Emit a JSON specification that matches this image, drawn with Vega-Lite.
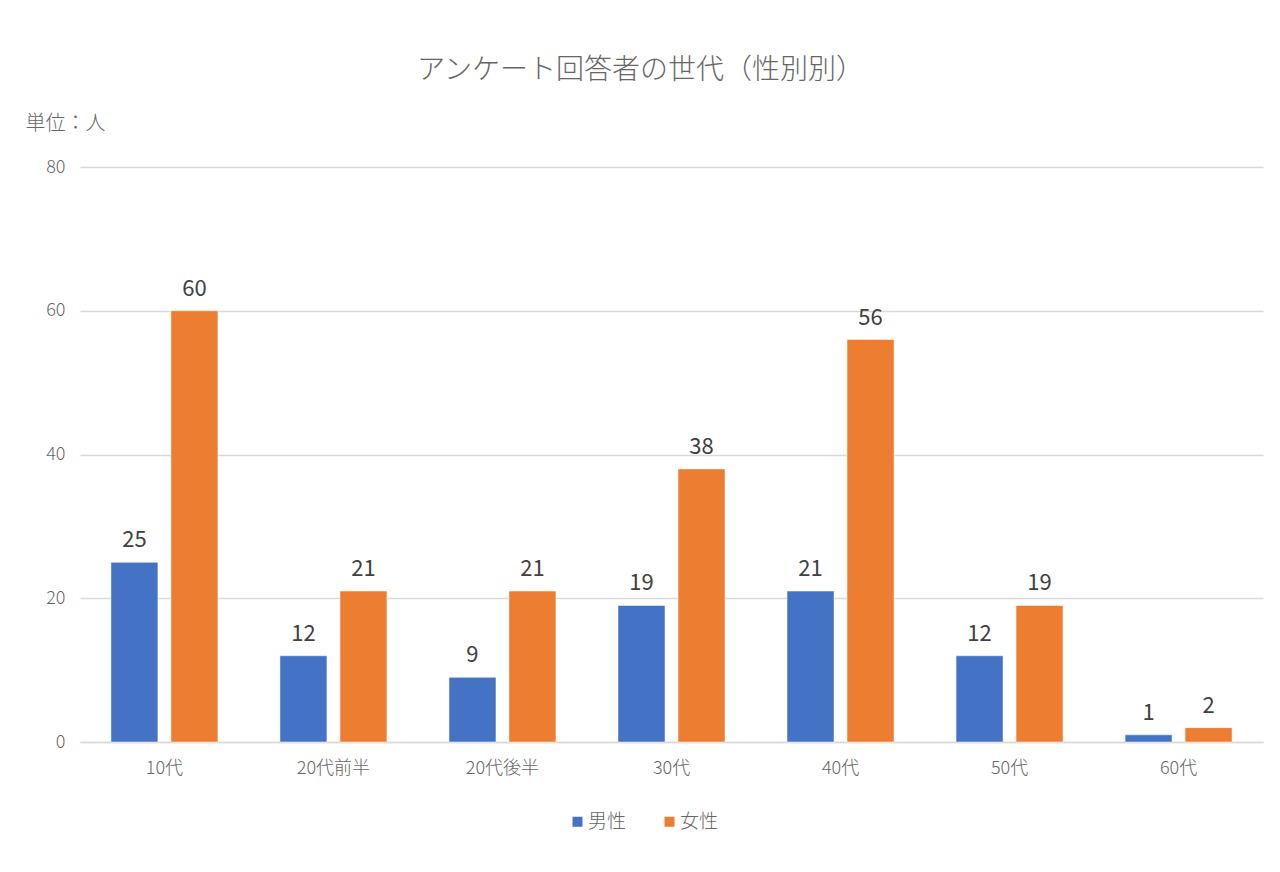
{
  "$schema": "https://vega.github.io/schema/vega-lite/v6.json",
  "description": "アンケート回答者の世代（性別別）",
  "width": 1183,
  "height": 575,
  "autosize": {"type": "none"},
  "padding": {"left": 80, "top": 167, "right": 17, "bottom": 130},
  "background": "white",
  "title": {
    "text": "アンケート回答者の世代（性別別）",
    "anchor": "middle",
    "frame": "group",
    "dx": -31,
    "offset": 28,
    "fontSize": 28,
    "fontWeight": 300,
    "color": "#666666"
  },
  "data": {
    "values": [
      {"age": "10代", "sex": "男性", "count": 25},
      {"age": "10代", "sex": "女性", "count": 60},
      {"age": "20代前半", "sex": "男性", "count": 12},
      {"age": "20代前半", "sex": "女性", "count": 21},
      {"age": "20代後半", "sex": "男性", "count": 9},
      {"age": "20代後半", "sex": "女性", "count": 21},
      {"age": "30代", "sex": "男性", "count": 19},
      {"age": "30代", "sex": "女性", "count": 38},
      {"age": "40代", "sex": "男性", "count": 21},
      {"age": "40代", "sex": "女性", "count": 56},
      {"age": "50代", "sex": "男性", "count": 12},
      {"age": "50代", "sex": "女性", "count": 19},
      {"age": "60代", "sex": "男性", "count": 1},
      {"age": "60代", "sex": "女性", "count": 2}
    ]
  },
  "encoding": {
    "x": {
      "field": "age",
      "type": "nominal",
      "sort": ["10代", "20代前半", "20代後半", "30代", "40代", "50代", "60代"],
      "scale": {"paddingInner": 0.367, "paddingOuter": 0.183},
      "axis": {
        "title": null,
        "labelAngle": 0,
        "ticks": false,
        "labelPadding": 17,
        "domainColor": "#d9d9d9",
        "domainWidth": 1.5,
        "grid": false
      }
    },
    "xOffset": {
      "field": "sex",
      "type": "nominal",
      "sort": ["男性", "女性"],
      "scale": {"paddingInner": 0.2167, "paddingOuter": 0}
    },
    "y": {
      "field": "count",
      "type": "quantitative",
      "scale": {"domain": [0, 80]},
      "axis": {
        "values": [0, 20, 40, 60, 80],
        "title": "単位：人",
        "titleAngle": 0,
        "titleAlign": "left",
        "titleBaseline": "middle",
        "titleX": -55,
        "titleY": -44,
        "titleFontSize": 20,
        "titleFontWeight": 300,
        "titleColor": "#666666",
        "ticks": false,
        "domain": false,
        "labelPadding": 15,
        "gridColor": "#d9d9d9",
        "gridWidth": 1.5
      }
    },
    "color": {
      "field": "sex",
      "type": "nominal",
      "sort": ["男性", "女性"],
      "scale": {"range": ["#4472C4", "#ED7D31"]},
      "legend": {
        "title": null,
        "orient": "none",
        "direction": "horizontal",
        "legendX": 488,
        "legendY": 645,
        "symbolType": "square",
        "symbolSize": 100,
        "symbolStrokeWidth": 0,
        "labelFontSize": 19,
        "labelFontWeight": 300,
        "labelOffset": 1,
        "labelColor": "#666666",
        "columnPadding": 33,
        "padding": 0
      }
    }
  },
  "layer": [
    {"mark": {"type": "bar", "stroke": "white", "strokeWidth": 0.5}},
    {
      "mark": {
        "type": "text",
        "baseline": "bottom",
        "dy": -10,
        "fontSize": 22,
        "color": "#404040"
      },
      "encoding": {
        "text": {"field": "count", "type": "quantitative"},
        "color": {"value": "#404040"}
      }
    }
  ],
  "config": {
    "font": "Noto Sans CJK JP",
    "axis": {
      "labelFontSize": 18,
      "labelFontWeight": 300,
      "labelColor": "#666666",
      "labelFont": "Noto Sans CJK JP",
      "titleFont": "Noto Sans CJK JP"
    },
    "legend": {"labelFont": "Noto Sans CJK JP"},
    "view": {"stroke": null}
  }
}
